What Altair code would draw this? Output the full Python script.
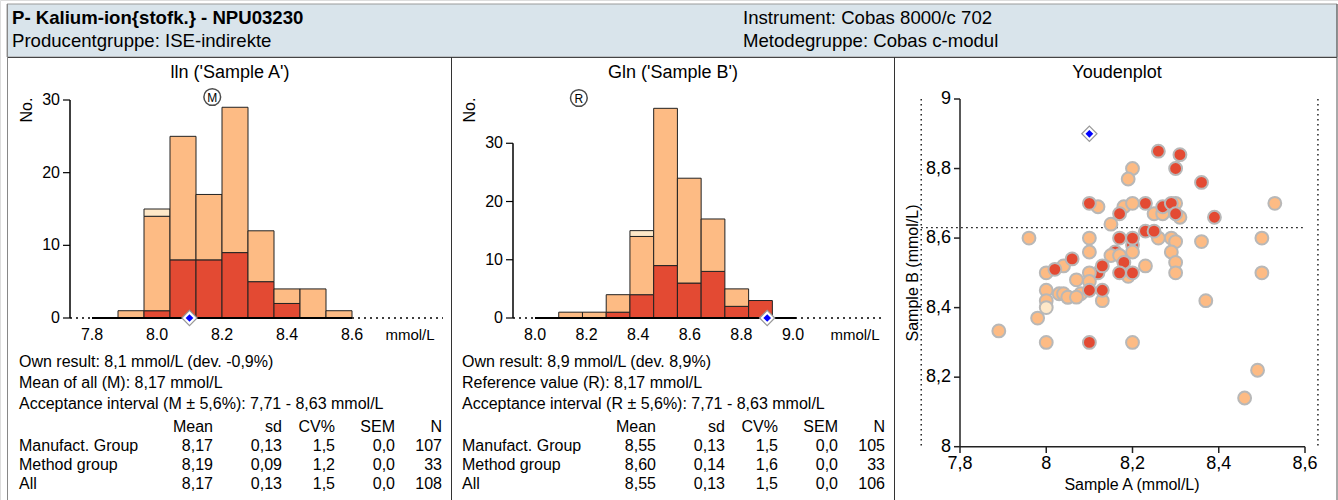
import altair as alt
import pandas as pd

FONT = "Liberation Sans"
RED, ORANGE, PALE = "#e34a33", "#fdbb84", "#fee8c8"

# ---------------- data ----------------
header_left = ["P- Kalium-ion{stofk.} - NPU03230", "Producentgruppe: ISE-indirekte"]
header_right = ["Instrument: Cobas 8000/c 702", "Metodegruppe: Cobas c-modul"]

titles = ["lln ('Sample A')", "Gln ('Sample B')", "Youdenplot"]

# Histogram A (Sample A): bin edges and counts per group
edges_a = [7.80, 7.88, 7.96, 8.04, 8.12, 8.20, 8.28, 8.36, 8.44, 8.52, 8.60]
red_a = [0, 0, 1, 8, 8, 9, 5, 2, 0, 0]
orange_a = [0, 1, 13, 17, 9, 20, 7, 2, 4, 1]
pale_a = [0, 0, 1, 0, 0, 0, 0, 0, 0, 0]
ticks_a = [7.8, 8.0, 8.2, 8.4, 8.6]
tick_labels_a = ["7.8", "8.0", "8.2", "8.4", "8.6"]
mean_a = 8.17
own_a = 8.1

# Histogram B (Sample B)
edges_b = [8.000, 8.092, 8.184, 8.276, 8.368, 8.460, 8.552, 8.644, 8.736, 8.828, 8.920, 9.012]
red_b = [0, 0, 0, 1, 4, 9, 6, 8, 2, 3, 0]
orange_b = [0, 1, 1, 3, 10, 27, 18, 9, 3, 0, 0]
pale_b = [0, 0, 0, 0, 1, 0, 0, 0, 0, 0, 0]
ticks_b = [8.0, 8.2, 8.4, 8.6, 8.8, 9.0]
tick_labels_b = ["8.0", "8.2", "8.4", "8.6", "8.8", "9.0"]
ref_b = 8.17
own_b = 8.9

count_ticks = [0, 10, 20, 30]
count_labels = ["0", "10", "20", "30"]

info_a = ["Own result: 8,1 mmol/L (dev. -0,9%)",
          "Mean of all (M): 8,17 mmol/L",
          "Acceptance interval (M ± 5,6%): 7,71 - 8,63 mmol/L"]
info_b = ["Own result: 8,9 mmol/L (dev. 8,9%)",
          "Reference value (R): 8,17 mmol/L",
          "Acceptance interval (R ± 5,6%): 7,71 - 8,63 mmol/L"]
table_cols = ["Mean", "sd", "CV%", "SEM", "N"]
table_rows = ["Manufact. Group", "Method group", "All"]
table_a = [["8,17", "0,13", "1,5", "0,0", "107"],
           ["8,19", "0,09", "1,2", "0,0", "33"],
           ["8,17", "0,13", "1,5", "0,0", "108"]]
table_b = [["8,55", "0,13", "1,5", "0,0", "105"],
           ["8,60", "0,14", "1,6", "0,0", "33"],
           ["8,55", "0,13", "1,5", "0,0", "106"]]

# Youden plot points (Sample A, Sample B, group) in drawing order
youden_a = [8.16, 8.05, 8.12, 8.20,
            8.20, 8.19, 8.12, 8.18, 8.20, 8.25, 8.27, 8.30, 8.31, 8.53, 8.15, 7.96,
            8.10, 8.26, 8.29, 8.30, 8.36, 8.50, 8.10, 8.20, 8.29, 8.30, 8.15, 8.17,
            8.04, 8.00, 8.10, 8.19, 8.23, 8.30, 8.50, 8.07, 8.10, 8.08, 8.00, 8.03,
            8.04, 8.05, 8.07, 8.13, 8.00, 7.98, 7.89, 8.00, 8.20, 8.37, 8.49, 8.46,
            8.00,
            8.26, 8.31, 8.30, 8.36, 8.10, 8.23, 8.17, 8.27, 8.29, 8.30, 8.39, 8.17,
            8.20, 8.23, 8.25, 8.06, 8.02, 8.13, 8.18, 8.17, 8.20, 8.10, 8.13, 8.10]
youden_b = [8.56, 8.43, 8.50, 8.58,
            8.80, 8.77, 8.69, 8.69, 8.70, 8.67, 8.67, 8.70, 8.66, 8.70, 8.64, 8.60,
            8.60, 8.60, 8.60, 8.59, 8.59, 8.60, 8.56, 8.56, 8.56, 8.53, 8.55, 8.55,
            8.52, 8.50, 8.50, 8.49, 8.52, 8.50, 8.50, 8.48, 8.475, 8.44, 8.45, 8.44,
            8.44, 8.43, 8.43, 8.42, 8.42, 8.37, 8.333, 8.30, 8.30, 8.42, 8.22, 8.14,
            8.40,
            8.85, 8.84, 8.80, 8.76, 8.70, 8.70, 8.67, 8.69, 8.70, 8.67, 8.66, 8.60,
            8.60, 8.62, 8.62, 8.54, 8.51, 8.52, 8.53, 8.50, 8.50, 8.45, 8.45, 8.30]
youden_grp = (["m"] * 4 + ["p"] * 48 + ["o"] + ["m"] * 24)
youden_ticks_x = [7.8, 8.0, 8.2, 8.4, 8.6]
youden_labels_x = ["7,8", "8", "8,2", "8,4", "8,6"]
youden_ticks_y = [8.0, 8.2, 8.4, 8.6, 8.8, 9.0]
youden_labels_y = ["8", "8,2", "8,4", "8,6", "8,8", "9"]
own_youden = (8.1, 8.9)
accept_lo, accept_hi = 7.71, 8.63

# ---------------- helpers ----------------
grp_color = alt.Color("grp:N", scale=alt.Scale(domain=["m", "p", "o"], range=[RED, ORANGE, PALE]), legend=None)
ONE = pd.DataFrame({"a": [0]})


def stacked(edges, red, orange, pale):
    rows = []
    for i in range(len(red)):
        lo = 0
        for grp, cnt in (("m", red[i]), ("p", orange[i]), ("o", pale[i])):
            if cnt > 0:
                rows.append(dict(x0=edges[i], x1=edges[i + 1], y0=lo, y1=lo + cnt, grp=grp))
            lo += cnt
    return pd.DataFrame(rows)


def txt(s, x, y, size=16, weight="normal", align="left", angle=0):
    return alt.Chart(pd.DataFrame({"t": [s]})).mark_text(
        font=FONT, fontSize=size, fontWeight=weight, align=align, baseline="middle",
        angle=angle, color="#000"
    ).encode(text="t:N", x=alt.value(x), y=alt.value(y))


def hline(x1, x2, y, color="#000", width=1.0, dash=None):
    kw = dict(color=color, strokeWidth=width)
    if dash:
        kw["strokeDash"] = dash
    return alt.Chart(ONE).mark_rule(**kw).encode(x=alt.value(x1), x2=alt.value(x2), y=alt.value(y))


def vline(x, y1, y2, color="#000", width=1.0):
    return alt.Chart(ONE).mark_rule(color=color, strokeWidth=width).encode(
        x=alt.value(x), y=alt.value(y1), y2=alt.value(y2))


def X(field, scale):
    return alt.X(field, scale=scale, axis=None)


def Y(field, scale):
    return alt.Y(field, scale=scale, axis=None)


def x_labels(vals, labels, scale, ypix, size):
    return alt.Chart(pd.DataFrame({"v": vals, "t": labels})).mark_text(
        font=FONT, fontSize=size, color="#000", align="center", baseline="middle").encode(
        x=X("v:Q", scale), y=alt.value(ypix), text="t:N")


def y_labels(vals, labels, scale, xpix, size):
    return alt.Chart(pd.DataFrame({"v": vals, "t": labels})).mark_text(
        font=FONT, fontSize=size, color="#000", align="right", baseline="middle").encode(
        y=Y("v:Q", scale), x=alt.value(xpix), text="t:N")


def y_ticks(vals, scale, x1, x2, color="#000", width=1.2):
    return alt.Chart(pd.DataFrame({"v": vals})).mark_rule(color=color, strokeWidth=width).encode(
        y=Y("v:Q", scale), x=alt.value(x1), x2=alt.value(x2))


def x_ticks(vals, scale, y1, y2, color="#000", width=1.2):
    return alt.Chart(pd.DataFrame({"v": vals})).mark_rule(color=color, strokeWidth=width).encode(
        x=X("v:Q", scale), y=alt.value(y1), y2=alt.value(y2))


def own_marker(xv, yv, xscale, yscale):
    odf = pd.DataFrame({"a": [xv], "b": [yv]})
    outer = alt.Chart(odf).mark_point(shape="diamond", size=230, filled=True, fill="#fff",
                                      stroke="#999", strokeWidth=1.2, opacity=1).encode(
        x=X("a:Q", xscale), y=Y("b:Q", yscale))
    inner = alt.Chart(odf).mark_point(shape="diamond", size=60, filled=True, color="#0000ff",
                                      opacity=1).encode(
        x=X("a:Q", xscale), y=Y("b:Q", yscale))
    return [outer, inner]


def histogram(edges, red, orange, pale, xscale, yscale, xticks, xlabels, yaxis_px,
              marker_val, marker_letter, marker_y, own_val):
    out = []
    df = stacked(edges, red, orange, pale)
    out.append(alt.Chart(df).mark_rect(stroke="#222", strokeWidth=1).encode(
        x=X("x0:Q", xscale), x2="x1:Q", y=Y("y0:Q", yscale), y2="y1:Q", color=grp_color))
    # x axis line (solid over the data range)
    out.append(alt.Chart(pd.DataFrame({"x0": [xticks[0]], "x1": [edges[-1]], "y": [0]})).mark_rule(
        color="#000", strokeWidth=2).encode(x=X("x0:Q", xscale), x2="x1:Q", y=Y("y:Q", yscale)))
    out.append(x_labels(xticks, xlabels, xscale, 335, 16))
    # y axis
    out.append(alt.Chart(pd.DataFrame({"y0": [0], "y1": [30]})).mark_rule(
        color="#000", strokeWidth=1.5).encode(x=alt.value(yaxis_px), y=Y("y0:Q", yscale), y2="y1:Q"))
    out.append(y_ticks(count_ticks, yscale, yaxis_px - 7, yaxis_px))
    out.append(y_labels(count_ticks, count_labels, yscale, yaxis_px - 10, 16))
    # mean / reference marker
    mdf = pd.DataFrame({"v": [marker_val], "t": [marker_letter]})
    out.append(alt.Chart(mdf).mark_point(shape="circle", size=280, filled=False, color="#000",
                                         strokeWidth=1.5).encode(x=X("v:Q", xscale), y=alt.value(marker_y)))
    out.append(alt.Chart(mdf).mark_text(font=FONT, fontSize=12, color="#000", baseline="middle",
                                        align="center").encode(
        x=X("v:Q", xscale), y=alt.value(marker_y + 0.5), text="t:N"))
    out += own_marker(own_val, 0, xscale, yscale)
    return out


# ---------------- scales ----------------
xa = alt.Scale(domain=[7.8, 8.6], range=[92, 352], nice=False, zero=False)
ya = alt.Scale(domain=[0, 30], range=[318, 100], nice=False, zero=True)
xb = alt.Scale(domain=[8.0, 9.0], range=[535, 793], nice=False, zero=False)
yb = alt.Scale(domain=[0, 37.6], range=[318, 99], nice=False, zero=True)
xy = alt.Scale(domain=[7.8, 8.6], range=[960, 1305], nice=False, zero=False)
yy = alt.Scale(domain=[8.0, 9.0], range=[446.7, 99], nice=False, zero=False)

layers = []

# header band and panel frames
layers.append(alt.Chart(ONE).mark_rect(fill="#d9e4eb", stroke="#9a9a9a", strokeWidth=1).encode(
    x=alt.value(7), x2=alt.value(1337), y=alt.value(4), y2=alt.value(57)))
layers.append(hline(7, 1337, 57.5, color="#444", width=1))
layers.append(vline(7.5, 4, 500, color="#888"))
layers.append(vline(451.5, 57, 500, color="#333"))
layers.append(vline(894.5, 57, 500, color="#333"))
layers.append(vline(1337, 4, 500, color="#555"))

layers.append(txt(header_left[0], 12, 18, size=18.6, weight="bold"))
layers.append(txt(header_left[1], 12, 41, size=18.6))
layers.append(txt(header_right[0], 743, 18, size=18.6))
layers.append(txt(header_right[1], 743, 41, size=18.6))

# titles
layers.append(txt(titles[0], 230, 73, size=18, align="center"))
layers.append(txt(titles[1], 673, 73, size=18, align="center"))
layers.append(txt(titles[2], 1117, 73, size=18, align="center"))

# histogram decorations
layers.append(hline(70, 443, 318, dash=[2, 4], width=1.5))
layers.append(hline(513, 885, 318, dash=[2, 4], width=1.5))
layers.append(txt("No.", 27, 110, size=16, angle=270, align="center"))
layers.append(txt("No.", 470, 110, size=16, angle=270, align="center"))
layers.append(txt("mmol/L", 410, 335, size=15, align="center"))
layers.append(txt("mmol/L", 855, 335, size=15, align="center"))

# histograms
layers += histogram(edges_a, red_a, orange_a, pale_a, xa, ya, ticks_a, tick_labels_a, 70,
                    mean_a, "M", 97, own_a)
layers += histogram(edges_b, red_b, orange_b, pale_b, xb, yb, ticks_b, tick_labels_b, 513,
                    ref_b, "R", 98, own_b)

# info text + tables
for lines, tbl, x0, cols in ((info_a, table_a, 19, [213, 282, 335, 395, 442]),
                             (info_b, table_b, 462, [656, 725, 778, 838, 885])):
    for i, line in enumerate(lines):
        layers.append(txt(line, x0, 362 + 21 * i))
    for j, c in enumerate(table_cols):
        layers.append(txt(c, cols[j], 427, align="right"))
    for i, rname in enumerate(table_rows):
        y = 446 + 19 * i
        layers.append(txt(rname, x0, y))
        for j, v in enumerate(tbl[i]):
            layers.append(txt(v, cols[j], y, align="right"))

# ---------------- Youden plot ----------------
layers.append(alt.Chart(pd.DataFrame({"a": [accept_lo, accept_hi], "b0": [9.0, 9.0], "b1": [8.0, 8.0]})).mark_rule(
    color="#000", strokeWidth=1.3, strokeDash=[1.5, 3.5], clip=False).encode(
    x=X("a:Q", xy), y=Y("b0:Q", yy), y2="b1:Q"))
layers.append(alt.Chart(pd.DataFrame({"a0": [accept_lo], "a1": [youden_ticks_x[-1]], "b": [accept_hi]})).mark_rule(
    color="#000", strokeWidth=1.3, strokeDash=[1.5, 3.5], clip=False).encode(
    x=X("a0:Q", xy), x2="a1:Q", y=Y("b:Q", yy)))

# axes
layers.append(alt.Chart(pd.DataFrame({"x0": [youden_ticks_x[0]], "x1": [youden_ticks_x[-1]],
                                      "y": [youden_ticks_y[0]]})).mark_rule(
    color="#222", strokeWidth=1.5).encode(x=X("x0:Q", xy), x2="x1:Q", y=Y("y:Q", yy)))
layers.append(alt.Chart(pd.DataFrame({"x": [youden_ticks_x[0]], "y0": [youden_ticks_y[0]],
                                      "y1": [youden_ticks_y[-1]]})).mark_rule(
    color="#222", strokeWidth=1.5).encode(x=X("x:Q", xy), y=Y("y0:Q", yy), y2="y1:Q"))
layers.append(x_ticks(youden_ticks_x, xy, 446.7, 453, color="#222", width=1.5))
layers.append(y_ticks(youden_ticks_y, yy, 954, 960, color="#222", width=1.5))
layers.append(x_labels(youden_ticks_x, youden_labels_x, xy, 464, 18))
layers.append(y_labels(youden_ticks_y, youden_labels_y, yy, 951, 18))
layers.append(txt("Sample A (mmol/L)", 1132, 485, size=16, align="center"))
layers.append(txt("Sample B (mmol/L)", 913, 273, size=16, align="center", angle=270))

ydf = pd.DataFrame({"a": youden_a, "b": youden_b, "grp": youden_grp})
ydf["o"] = range(len(ydf))
layers.append(alt.Chart(ydf).mark_point(filled=True, size=165, stroke="#b8b8b8", strokeWidth=2,
                                        opacity=1, shape="circle").encode(
    x=X("a:Q", xy), y=Y("b:Q", yy), color=grp_color, order=alt.Order("o:Q")))
layers += own_marker(own_youden[0], own_youden[1], xy, yy)

chart = alt.layer(*layers).resolve_scale(x="independent", y="independent", color="independent").properties(
    width=1338, height=500, padding=0,
    autosize=alt.AutoSizeParams(type="none"),
    background="#ffffff",
).configure_view(stroke=None).configure(font=FONT)

chart.save("out.html", embed_options={"renderer": "svg", "actions": False})
